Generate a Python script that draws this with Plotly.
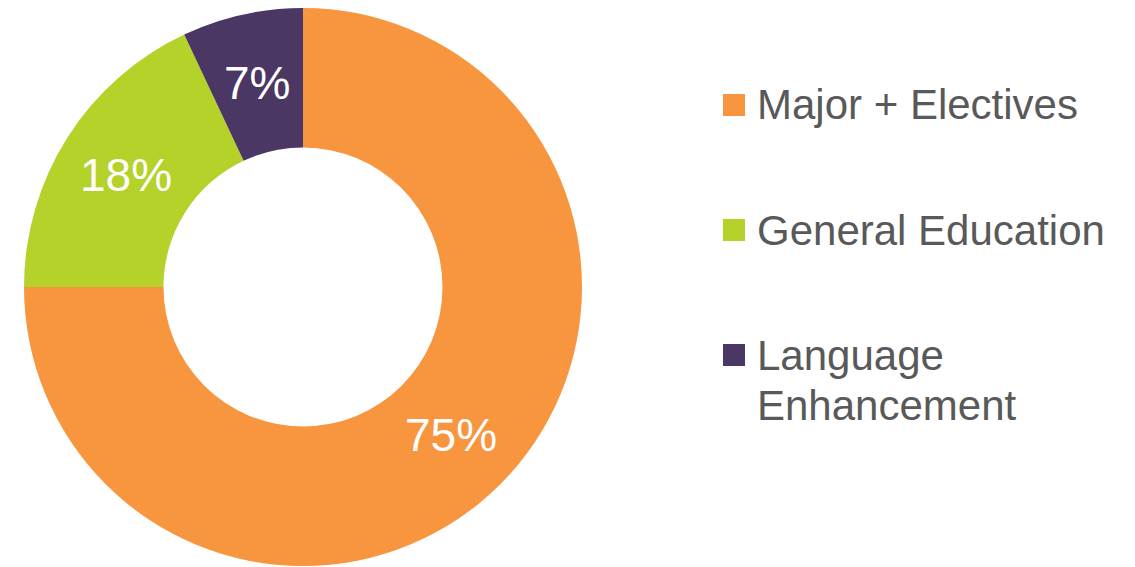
import math
import plotly.graph_objects as go

labels = ["Major + Electives", "General Education", "Language Enhancement"]
values = [75, 18, 7]
colors = ["#F7963F", "#B4D22A", "#4B3763"]

W, H = 1135, 567
TEXT_GRAY = "#595959"
FONT = "Liberation Sans, Arial, sans-serif"
HOLE = 0.5

# pie domain in pixels (left, right, top, bottom)
PX0, PX1, PY0, PY1 = 24, 582, 8, 566

fig = go.Figure()
fig.add_trace(go.Pie(
    labels=labels,
    values=values,
    hole=HOLE,
    sort=False,
    direction="clockwise",
    rotation=0,
    marker=dict(colors=colors, line=dict(width=0)),
    textinfo="none",
    showlegend=False,
    domain=dict(x=[PX0 / W, PX1 / W], y=[1 - PY1 / H, 1 - PY0 / H]),
))

# Percentage labels placed at each slice's mid-angle, mid-ring radius
cx, cy = (PX0 + PX1) / 2, (PY0 + PY1) / 2
R = min(PX1 - PX0, PY1 - PY0) / 2
r_mid = R * (1 + HOLE) / 2
total = sum(values)
cum = 0
for v in values:
    theta = 2 * math.pi * (cum + v / 2) / total
    cum += v
    tx = cx + r_mid * math.sin(theta)
    ty = cy - r_mid * math.cos(theta)
    fig.add_annotation(xref="paper", yref="paper", x=tx / W, y=1 - ty / H,
                       xanchor="center", yanchor="middle",
                       text=f"{round(100 * v / total)}%", showarrow=False,
                       font=dict(size=46, color="white", family=FONT))

# Legend drawn manually (large swatches, wide spacing as in the reference)
sw = 22
sw_x0 = 723
first_y = 105
step = 125
text_x = 755
line_h = 50
for i, (lab, col) in enumerate(zip(labels, colors)):
    ly = first_y + i * step
    fig.add_shape(type="rect", xref="paper", yref="paper",
                  x0=sw_x0 / W, x1=(sw_x0 + sw) / W,
                  y0=1 - (ly + sw / 2) / H, y1=1 - (ly - sw / 2) / H,
                  fillcolor=col, line=dict(width=0))
    words = lab.split(" ")
    lines = [lab] if len(lab) <= 18 else [words[0], " ".join(words[1:])]
    for j, ln in enumerate(lines):
        fig.add_annotation(xref="paper", yref="paper",
                           x=text_x / W, y=1 - (ly + j * line_h) / H,
                           xanchor="left", yanchor="middle",
                           text=ln, showarrow=False,
                           font=dict(size=42, color=TEXT_GRAY, family=FONT))

fig.update_layout(
    width=W, height=H,
    margin=dict(l=0, r=0, t=0, b=0),
    paper_bgcolor="white",
    plot_bgcolor="white",
)

fig.write_html("out.html")
